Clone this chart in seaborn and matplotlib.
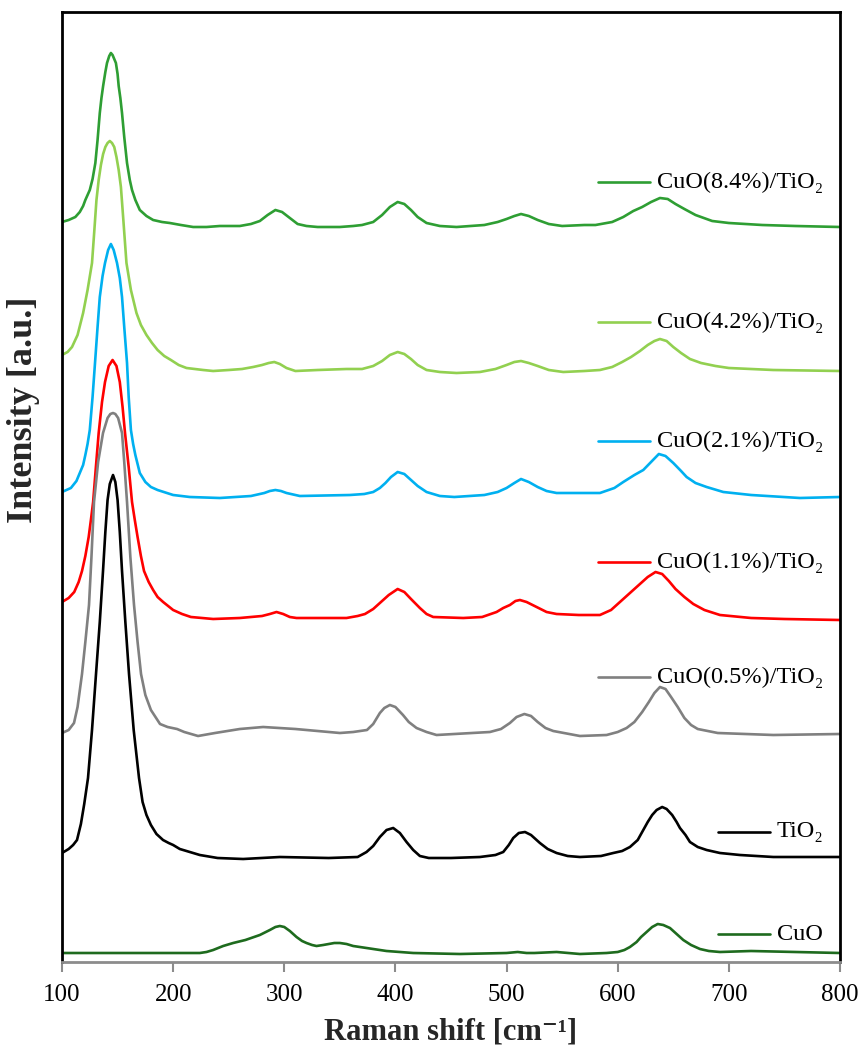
import numpy as np
import pandas as pd
import matplotlib
matplotlib.use("Agg")
import matplotlib.pyplot as plt
import seaborn as sns

# ---------------- data (Raman shift in cm^-1, intensity in a.u., stacked) ----------------
x_84 = [100, 106, 112, 116, 119, 121, 123, 125, 127.5, 130, 132, 134, 135.5, 137, 139, 140.5, 142.5, 144, 145.5,
        147, 148.5, 150, 151, 152.5, 154, 156, 158.5, 161, 163, 166, 170, 176, 182, 190, 197, 207, 218, 230, 242,
        260, 270, 278, 285, 292, 298, 305, 312, 320, 330, 350, 362, 370, 380, 388, 395, 402, 408, 414, 420, 428,
        440, 455, 480, 492, 500, 507, 513, 520, 528, 538, 550, 570, 580, 595, 605, 614, 622, 630, 638, 645, 652,
        660, 670, 685, 700, 730, 760, 800]
y_84 = [740, 742, 745, 750, 756, 762, 767, 772, 783, 799, 822, 849, 864, 876, 890, 899, 906, 909, 907,
        903, 899, 888, 876, 864, 849, 825, 799, 782, 772, 762, 752, 746, 742, 740, 739, 737, 735, 735, 736,
        736, 738, 741, 747, 752, 750, 744, 738, 736, 735, 735, 736, 737, 740, 747, 755, 760, 758, 752, 745, 739,
        736, 735, 737, 740, 743, 746, 748, 746, 742, 738, 736, 737, 737, 740, 745, 751, 755, 760, 764, 763, 758,
        753, 747, 741, 739, 737, 736, 735]

x_42 = [100, 105, 109, 114, 119, 123, 127, 129, 131, 133, 135, 137, 139, 141, 143, 145, 147, 149, 151, 153, 155,
        158, 162, 167, 171, 176, 181, 186, 192, 198, 205, 212, 227, 236, 250, 262, 272, 280, 286, 291, 296, 302,
        310, 330, 356, 370, 380, 388, 395, 402, 408, 414, 420, 428, 440, 455, 476, 490, 500, 507, 513, 520, 528,
        538, 551, 570, 584, 595, 604, 612, 620, 627, 633, 638, 644, 650, 657, 665, 675, 688, 700, 740, 800]
y_42 = [607, 610, 615, 627, 649, 672, 699, 730, 762, 782, 797, 808, 815, 819, 821, 819, 815, 805, 792, 775, 745,
        699, 672, 649, 637, 627, 619, 612, 606, 602, 597, 594, 592, 591, 592, 593, 595, 597, 599, 600, 598, 594,
        591, 592, 593, 593, 596, 601, 607, 610, 608, 603, 597, 592, 590, 589, 590, 593, 597, 600, 601, 599, 596,
        592, 590, 591, 592, 595, 600, 605, 611, 617, 621, 623, 621, 615, 609, 603, 599, 596, 594, 592, 591]

x_21 = [100, 108, 113, 116, 119, 121, 123, 125, 127.5, 129.7, 132, 134, 136.5, 138.7, 141.5, 144, 146.5, 149.5,
        152, 154, 156, 158.5, 160, 162, 164, 166, 170, 175, 180, 186, 200, 215, 242, 270, 282, 287, 292, 297, 302,
        314, 359, 372, 380, 386, 391, 396, 402, 408, 414, 420, 428, 440, 453, 480, 492, 500, 507, 513, 520, 528,
        536, 545, 584, 597, 605, 615, 623, 630, 637, 643, 650, 657, 662, 670, 680, 695, 720, 764, 800]
y_21 = [470, 474, 481, 489, 497, 507, 518, 532, 565, 599, 635, 665, 686, 699, 712, 718, 712, 699,
        684, 665, 635, 599, 565, 532, 518, 507, 489, 480, 475, 472, 467, 465, 464, 466, 469, 471, 472, 471, 469,
        466, 467, 468, 470, 474, 479, 485, 490, 488, 482, 476, 470, 466, 465, 467, 470, 474, 479, 483, 480, 475,
        471, 469, 469, 474, 480, 487, 492, 500, 508, 506, 499, 491, 485, 479, 475, 470, 467, 464, 465]

x_11 = [100, 106, 111, 115, 118, 121, 124, 126, 128, 130.5, 133, 136, 138.7, 142, 145.5, 149, 152, 154.5, 156.7,
        160, 163, 165.5, 168, 171, 173.8, 178, 182, 186, 191, 200, 208, 216, 236, 260, 280, 287, 293, 299, 305,
        311, 356, 366, 372.6, 380, 386, 394, 402, 408, 414, 422, 428, 434, 461, 478, 491, 497, 503, 508, 512, 518,
        527, 536, 545, 565, 584, 594, 602, 612, 620, 627, 634, 640, 646, 652, 660, 668, 678, 692, 720, 750, 800]
y_11 = [360, 364, 370, 380, 391, 406, 425, 442, 460, 495, 529, 560, 580, 596, 602, 596, 580, 555, 529,
        495, 460, 442, 425, 406, 391, 380, 372, 365, 360, 352, 348, 345, 343, 344, 346, 348, 350, 348, 345,
        344, 344, 346, 348, 353, 359, 367, 373, 370, 363, 354, 348, 345, 344, 345, 350, 354, 357, 361, 362, 360,
        355, 350, 348, 347, 347, 352, 360, 370, 378, 385, 390, 388, 381, 373, 365, 358, 352, 347, 344, 343, 342]

x_05 = [100, 106, 110.8, 114, 118, 121, 124.3, 126.5, 128.8, 132.5, 136.9, 141, 143.5, 145.9, 148, 150.5, 154, 156,
        158.5, 161.5, 164.8, 168, 171.1, 175, 180, 188.2, 195, 203.5, 210, 222.4, 237.7, 260, 281, 310, 350, 362,
        374.4, 380, 386, 390, 395, 400, 406.8, 412, 419, 428, 437, 485, 495, 503, 509, 516, 522, 528, 535, 542,
        566, 590, 600, 608, 615, 622, 628, 633, 638, 643, 648, 654, 660, 666, 672, 690, 740, 800]
y_05 = [229, 232, 239, 255, 288, 320, 357, 405, 460, 500, 529, 544, 548, 549, 548, 544, 529, 500,
        460, 405, 357, 320, 288, 267, 252, 238, 235, 233, 230, 226, 229, 233, 235, 233, 229, 230,
        232, 238, 249, 254, 257, 255, 247, 240, 234, 230, 227, 230, 233, 239, 245, 248, 246, 240, 234, 231,
        226, 227, 230, 234, 240, 250, 260, 269, 275, 273, 265, 255, 244, 237, 233, 229, 227, 228]

x_ti = [100, 106, 110, 113.5, 117, 120, 123.4, 127, 130.6, 134, 136.9, 139, 141, 143, 145.9, 148, 150, 152, 154,
        157, 160.3, 164.5, 169.3, 172.5, 176, 180, 185, 190.9, 196, 200, 206, 212, 224, 240, 263, 296, 340, 366,
        374, 380, 386, 392, 398, 404, 410, 416, 422, 430, 450, 476, 490, 497, 502, 506, 511, 516.6, 522, 530, 537,
        545, 555, 566, 585, 596, 604, 611, 618, 623, 627, 631, 635, 640, 644, 649, 653, 656, 661, 665, 672, 680,
        692, 710, 740, 800]
y_ti = [109, 113, 117, 122, 138, 158, 184, 232, 288, 340, 391, 430, 462, 478, 487, 480, 462, 430, 391,
        340, 288, 232, 184, 160, 147, 137, 128, 122, 119, 117, 113, 111, 107, 104, 103, 105, 104, 105,
        110, 116, 125, 132, 134, 129, 120, 112, 106, 104, 104, 105, 107, 110, 117, 124, 129, 130, 127, 119, 113,
        109, 106, 105, 106, 109, 111, 115, 122, 132, 140, 147, 152, 155, 153, 147, 140, 134, 127, 120, 115, 112,
        109, 107, 105, 105]

x_cuo = [100, 200, 224, 230, 236, 245, 254, 265, 278, 287, 292, 296, 300, 305, 311, 316, 320, 325, 329, 335, 340,
         345, 350, 356, 362, 368, 380, 392, 404, 416, 458, 500, 510, 518, 525, 545, 566, 590, 600, 606, 611, 617,
         621, 626, 631, 636, 641, 647, 653, 659, 666, 674, 682, 692, 720, 760, 800]
y_cuo = [9, 9, 9, 10, 12, 16, 19, 22, 27, 32, 35, 36, 35, 31, 25, 21, 19, 17, 16, 17, 18,
         19, 19, 18, 16, 15, 13, 11, 10, 9, 8, 9, 10, 9, 9, 10, 8, 9, 10, 12, 15, 20,
         25, 30, 35, 38, 37, 34, 28, 22, 17, 13, 11, 10, 11, 10, 9]

labels = ["CuO(8.4%)/TiO\u2082", "CuO(4.2%)/TiO\u2082", "CuO(2.1%)/TiO\u2082", "CuO(1.1%)/TiO\u2082",
          "CuO(0.5%)/TiO\u2082", "TiO\u2082", "CuO"]
colors = ["#2e9e33", "#92d050", "#00b0f0", "#ff0000", "#808080", "#000000", "#1e6b1e"]
label_y = [780, 640, 521, 400, 285, 130, 28]
label_x0 = [582, 582, 582, 582, 582, 690, 690]
xticks = [100, 200, 300, 400, 500, 600, 700, 800]

series_x = [x_84, x_42, x_21, x_11, x_05, x_ti, x_cuo]
series_y = [y_84, y_42, y_21, y_11, y_05, y_ti, y_cuo]

# ---------------- plot ----------------
sns.set_theme(style="white")
plt.rcParams["font.family"] = ["Liberation Serif", "DejaVu Serif"]

fig = plt.figure(figsize=(8.61, 10.54), dpi=100)
ax = fig.add_axes([62 / 861, 1 - 962 / 1054, (840 - 62) / 861, (962 - 12) / 1054])

for xs, ys, c in zip(series_x, series_y, colors):
    df = pd.DataFrame({"x": xs, "y": ys})
    sns.lineplot(data=df, x="x", y="y", ax=ax, color=c, lw=1.9, sort=False, estimator=None)

for lab, c, ly, lx in zip(labels, colors, label_y, label_x0):
    ax.plot([lx, lx + 47], [ly, ly], color=c, lw=1.9)
    ax.text(lx + 53, ly, lab, fontsize=17.5, va="center", ha="left",
            family=["Liberation Serif", "DejaVu Serif"], color="black")

ax.set_xlim(100, 800)
ax.set_ylim(0, 950)
ax.set_xticks(xticks)
ax.set_xticklabels([str(t) for t in xticks], fontsize=18)
ax.set_yticks([])

for side in ["left", "top", "right"]:
    ax.spines[side].set_color("black")
    ax.spines[side].set_linewidth(2.0)
ax.spines["bottom"].set_color("#8c8c8c")
ax.spines["bottom"].set_linewidth(2.0)
ax.tick_params(axis="x", direction="out", length=7, width=1.5, color="#8c8c8c", pad=9, labelcolor="black",
               bottom=True)

ax.set_xlabel("Raman shift [cm\u207b\u00b9]", fontsize=22, fontweight="bold", labelpad=8)
ax.set_ylabel("Intensity [a.u.]", fontsize=26, fontweight="bold", va="center")
ax.yaxis.set_label_coords(-0.049, 0.581)

fig.savefig("out.png", dpi=100)
